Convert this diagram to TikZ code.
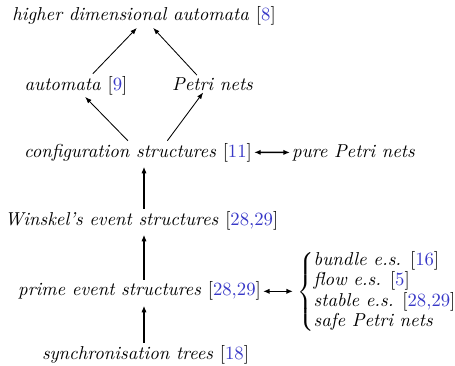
\documentclass[tikz,border=0pt]{standalone}
\usetikzlibrary{arrows.meta}
\definecolor{citeblue}{rgb}{0.22,0.22,0.78}
\newcommand{\refnum}[1]{\textup{[\textcolor{citeblue}{#1}]}}
\begin{document}
\begin{tikzpicture}[x=0.535pt, y=-0.535pt,
    every node/.style={font=\itshape, inner sep=1pt, anchor=base},
    thin arr/.style={line width=0.45pt, -{Latex[length=3.5pt,width=2.6pt]}},
    up arr/.style={line width=1pt, -{Latex[length=3.5pt,width=2.8pt]}, shorten >=1.5pt},
    both arr/.style={line width=0.8pt, {Latex[length=3.5pt,width=2.8pt]}-{Latex[length=3.5pt,width=2.8pt]}}]
  \useasboundingbox (0,0) rectangle (455,366);
  % Top part
  \node (higher) at (144,21) {higher dimensional automata \refnum{8}};
  \node (automata) at (76,90) {automata \refnum{9}};
  \node (petri) at (212.5,90) {Petri nets};
  \node (config) at (138,157) {configuration structures \refnum{11}};
  \node (pure) at (353.5,157) {pure Petri nets};
  \draw[thin arr] ([xshift=9pt]automata.north) -- ([xshift=-3.8pt]higher.south);
  \draw[thin arr] ([xshift=-8.4pt]petri.north) -- ([xshift=4.9pt]higher.south);
  \draw[thin arr] ([xshift=-5.4pt]config.north) -- ([xshift=4.9pt]automata.south);
  \draw[thin arr] ([xshift=15.7pt]config.north) -- ([xshift=-5pt]petri.south);
  \draw[both arr] (config.east) -- (pure.west);
  % Event structures
  \node (winskel) at (141.5,225) {Winskel's event structures \refnum{28,29}};
  \node (prime) at (139.5,296) {prime event structures \refnum{28,29}};
  \node (sync) at (145.5,359) {synchronisation trees \refnum{18}};
  \node[anchor=west, inner sep=2pt] (others) at (293,292)
    {$\left\{\renewcommand{\arraystretch}{0.9}\begin{tabular}{@{}l@{}}
      bundle e.s. \refnum{16}\\ flow e.s. \refnum{5}\\
      stable e.s. \refnum{28,29}\\ safe Petri nets
    \end{tabular}\right.$};
  \draw[up arr] (winskel.north -| higher) -- (config.south -| higher);
  \draw[up arr] (prime.north -| higher) -- (winskel.south -| higher);
  \draw[up arr] (sync.north -| higher) -- (prime.south -| higher);
  \draw[both arr] (prime.east) -- (prime.east -| others.west);
\end{tikzpicture}
\end{document}
